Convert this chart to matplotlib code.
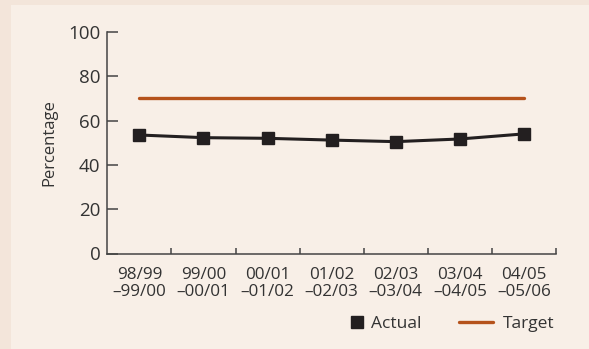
import matplotlib
matplotlib.use("Agg")
import matplotlib.pyplot as plt
from matplotlib.patches import Rectangle
import numpy as np

plt.rcParams['font.family'] = ['Open Sans', 'DejaVu Sans']

# academic years and the two series
periods = ['98/99\n\u201399/00', '99/00\n\u201300/01', '00/01\n\u201301/02',
           '01/02\n\u201302/03', '02/03\n\u201303/04', '03/04\n\u201304/05',
           '04/05\n\u201305/06']
actual = [53.5, 52.3, 52.0, 51.2, 50.5, 51.7, 54.0]
target = [70, 70, 70, 70, 70, 70, 70]

txt = '#333333'
outer_bg = '#f3e5da'
inner_bg = '#f8efe7'

fig = plt.figure(figsize=(5.89, 3.49), dpi=100, facecolor=outer_bg)
fig.patches.append(Rectangle((11 / 589, 0), 1, 1 - 5 / 349, transform=fig.transFigure,
                             facecolor=inner_bg, edgecolor='none', zorder=-10))

ax = fig.add_axes([107.3 / 589, 1 - 253.5 / 349, (556 - 107.3) / 589, (253.5 - 32) / 349])
ax.set_facecolor('none')

x = np.arange(len(periods))
t_line, = ax.plot(x, target, color='#b5521b', lw=2.4, solid_capstyle='round', zorder=2)
ax.plot(x, actual, color='#231f20', lw=2.2, zorder=3)
a_pts, = ax.plot(x, actual, ls='none', marker='s', ms=8.8, color='#231f20', zorder=4)

ax.set_xlim(-0.5, len(periods) - 0.5)
ax.set_ylim(0, 100)
for side in ['top', 'right']:
    ax.spines[side].set_visible(False)
for side in ['left', 'bottom']:
    ax.spines[side].set_color('#444444')
    ax.spines[side].set_linewidth(1.1)

ax.set_yticks(range(0, 101, 20))
ax.tick_params(axis='y', direction='in', length=8, width=1.1, color='#444444',
               labelsize=13.5, labelcolor=txt, pad=5)

# ticks sit between categories, labels centred on each category
ax.set_xticks(x + 0.5)
ax.set_xticklabels([])
ax.set_xticks(x, minor=True)
ax.set_xticklabels(periods, minor=True, fontsize=12.3, color=txt, linespacing=1.05)
ax.tick_params(axis='x', which='major', direction='in', length=4.5, width=1.1, color='#444444')
ax.tick_params(axis='x', which='minor', length=0, pad=10)

ax.set_ylabel('Percentage', fontsize=12, color=txt, labelpad=8)

# two separate legend entries so each handle keeps its own width
leg_kw = dict(loc='center left', frameon=False, fontsize=12.5, labelcolor=txt,
              borderpad=0, borderaxespad=0)
fig.legend([a_pts], ['Actual'], bbox_to_anchor=(349 / 589, 0.0716),
           handlelength=0.9, handletextpad=0.37, **leg_kw)
fig.legend([t_line], ['Target'], bbox_to_anchor=(459 / 589, 0.0716),
           handlelength=1.96, handletextpad=0.58, **leg_kw)

fig.savefig('out.png', dpi=100, facecolor=outer_bg)
